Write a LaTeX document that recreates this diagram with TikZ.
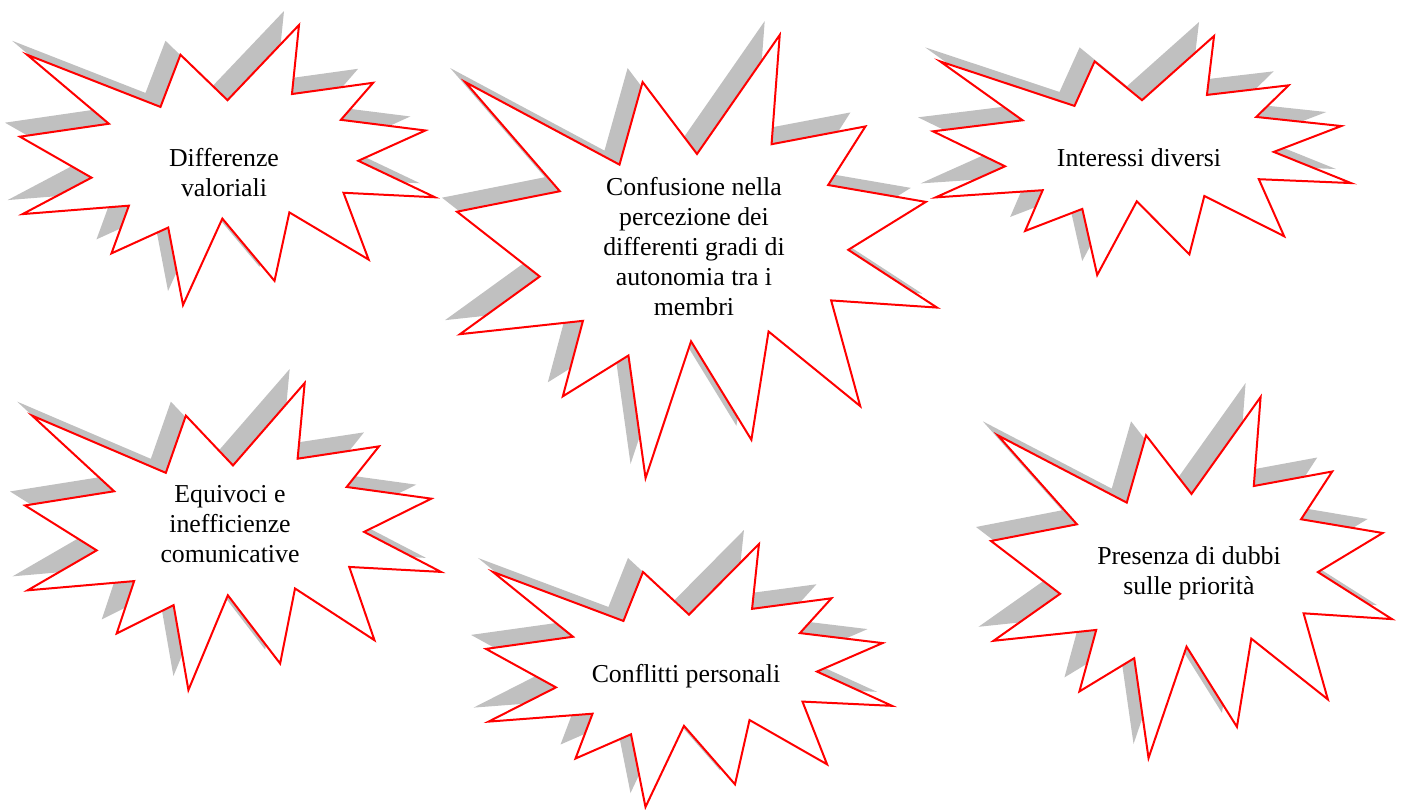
\documentclass[tikz,border=0pt]{standalone}
\usepackage{fontspec}
\setmainfont{Liberation Serif}
\definecolor{burstred}{RGB}{255,0,0}
\definecolor{burstgray}{RGB}{192,192,192}
% outline of one explosion, in a 216 x 216 box
\def\burstpath{(108,58) -- (145.22,0) -- (141.55,53.25) -- (183.80,44.57) -- (167.02,73.15) -- (210.97,81.37) -- (176.07,104.75) -- (216,132.90) -- (168.37,129.42) -- (181.45,180.95) -- (140.20,144.57) -- (132.47,197.37) -- (105.32,149.35) -- (84.85,216) -- (77.15,156.27) -- (47.62,176.17) -- (56.67,139.37) -- (1.35,145.87) -- (37.22,117.75) -- (0,86.15) -- (46.27,76.17) -- (3.70,22.95) -- (73.12,63.20) -- (83.52,22.95) -- cycle}
% #1,#2 top left corner, #3 width, #4 height
\newcommand{\explosion}[4]{%
  \fill[burstgray, shift={(#1-15,#2-14)}, xscale=#3/216, yscale=#4/216] \burstpath;
  \filldraw[fill=white, draw=burstred, line width=1pt, shift={(#1,#2)}, xscale=#3/216, yscale=#4/216] \burstpath;}
\begin{document}
\begin{tikzpicture}[x=0.5pt, y=-0.5pt, every node/.style={font=\fontsize{12.9}{15}\selectfont, align=center, inner sep=0pt}]
\useasboundingbox (0,0) rectangle (1401,809);

\explosion{20}{25}{415}{280}
\node (valori) at (224,173) {Differenze\\valoriali};

\explosion{457}{35}{480}{443}
\node (autonomia) at (694,247) {Confusione nella\\percezione dei\\differenti gradi di\\autonomia tra i\\membri};

\explosion{933}{36}{418}{239}
\node (interessi) at (1139,158) {Interessi diversi};

\explosion{25}{383}{416}{307}
\node (equivoci) at (230,524) {Equivoci e\\inefficienze\\comunicative};

\explosion{486}{544}{406}{263}
\node (conflitti) at (686,676) {Conflitti personali};

\explosion{991}{397}{401}{361}
\node (priorita) at (1189,573) {Presenza di dubbi\\sulle priorità};
\end{tikzpicture}
\end{document}
